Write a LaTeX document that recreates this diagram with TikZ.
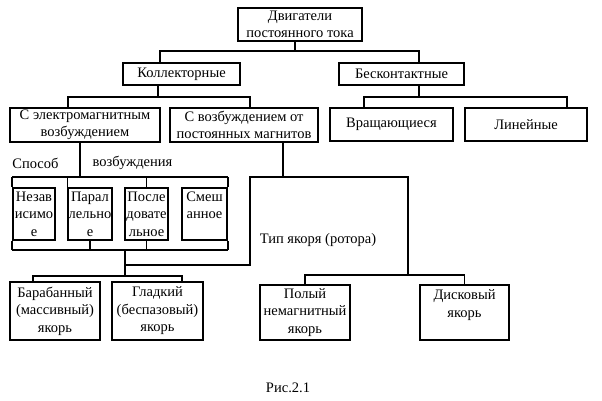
\documentclass[tikz,border=0pt]{standalone}
\usepackage{fontspec}
\setmainfont{Liberation Serif}
\begin{document}
\begin{tikzpicture}[x=1pt,y=-1pt,
  txt/.style={font=\fontsize{14.5}{17.5}\selectfont},
  box/.style={draw, line width=1.3pt, align=center, inner sep=0pt, txt},
  lbl/.style={inner sep=0pt, txt},
  ln/.style={line width=1.3pt}]
\useasboundingbox (0,0) rectangle (602,400);
% boxes
\node[box, minimum width=124pt, minimum height=33pt] (top) at (300,24.5) {Двигатели\\постоянного тока};
\node[box, minimum width=117pt, minimum height=22pt] (koll) at (181.5,74) {Коллекторные};
\node[box, minimum width=125pt, minimum height=22pt] (besk) at (401.5,74) {Бесконтактные};
\node[box, minimum width=150pt, minimum height=34pt] (elmag) at (85,125) {С электромагнитным\\возбуждением};
\node[box, minimum width=148pt, minimum height=34pt] (postmag) at (244,125) {С возбуждением от\\постоянных магнитов};
\node[box, minimum width=123pt, minimum height=33pt] (vrash) at (391.5,124.5) {Вращающиеся};
\node[box, minimum width=122pt, minimum height=33pt] (lin) at (526,124.5) {Линейные};
\node[box, minimum width=42pt, minimum height=52pt] (b1) at (34,214) {Незав\\исимо\\е};
\node[box, minimum width=44pt, minimum height=52pt] (b2) at (90,214) {Парал\\лельно\\е};
\node[box, minimum width=43pt, minimum height=52pt] (b3) at (146.5,214) {После\\довате\\льное};
\node[box, minimum width=45pt, minimum height=52pt] (b4) at (204.5,214) {Смеш\\анное\\\mbox{}};
\node[box, minimum width=90pt, minimum height=58pt] (bar) at (55,311) {Барабанный\\(массивный)\\якорь};
\node[box, minimum width=91pt, minimum height=58pt] (gl) at (157.5,311) {Гладкий\\(беспазовый)\\якорь};
\node[box, minimum width=90pt, minimum height=55pt] (pol) at (305,312.5) {Полый\\немагнитный\\якорь};
\node[box, minimum width=89pt, minimum height=55pt] (disk) at (464.5,312.5) {Дисковый\\якорь\\\mbox{}};
% labels
\node[lbl] (sposob) at (35.5,163) {Способ};
\node[lbl] (vozb) at (132.5,163) {возбуждения};
\node[lbl] (tip) at (318,240) {Тип якоря (ротора)};
\node[lbl] (ris) at (288,388) {Рис.2.1};
% level 1
\coordinate (j1) at (295,51);
\coordinate (xk) at (160,0);
\coordinate (xb) at (419,0);
\draw[ln] (top.south -| j1) -- (j1);
\draw[ln] (koll.north -| xk) |- (j1) -| (besk.north -| xb);
% level 2 left
\coordinate (j2) at (158,97);
\coordinate (xe) at (68,0);
\coordinate (xp) at (250,0);
\draw[ln] (koll.south -| j2) -- (j2);
\draw[ln] (elmag.north -| xe) |- (j2) -| (postmag.north -| xp);
% level 2 right
\coordinate (j3) at (419,97);
\coordinate (xv) at (364,0);
\coordinate (xl) at (567,0);
\draw[ln] (besk.south -| j3) -- (j3);
\draw[ln] (vrash.north -| xv) |- (j3) -| (lin.north -| xl);
% excitation frame
\coordinate (ft) at (80,177);
\coordinate (ftl) at (12,177);
\coordinate (ftr) at (228,177);
\draw[ln] (elmag.south -| ft) -- (ft);
\draw[ln] (ftl) -- (ftr);
\draw[ln] (ftl) -- (ftl |- b1.north);
\draw[ln] (b2.north west |- ftl) -- (b2.north west);
\draw[ln] (b3.north |- ftl) -- (b3.north);
\draw[ln] (ftr) -- (ftr |- b4.north);
\coordinate (fbl) at (12,250);
\coordinate (fbr) at (228,250);
\draw[ln] (fbl) -- (fbr);
\draw[ln] (fbl) -- (fbl |- b1.south);
\draw[ln] (b2.south |- fbl) -- (b2.south);
\draw[ln] (b3.south |- fbl) -- (b3.south);
\draw[ln] (fbr) -- (fbr |- b4.south);
% armature
\coordinate (fb) at (125,250);
\coordinate (j5) at (125,276);
\coordinate (xbar) at (33,0);
\coordinate (xgl) at (182,0);
\draw[ln] (fb) -- (j5);
\draw[ln] (bar.north -| xbar) |- (j5) -| (gl.north -| xgl);
\coordinate (rt) at (283,177);
\coordinate (m) at (125,265);
\coordinate (rbl) at (250,265);
\coordinate (rtl) at (250,177);
\coordinate (rtr) at (408,177);
\coordinate (rbr) at (408,275);
\draw[ln] (postmag.south -| rt) -- (rt);
\draw[ln] (m) -- (rbl) -- (rtl) -- (rtr) -- (rbr);
\draw[ln] (pol.north) |- (rbr) -| (disk.north);
\end{tikzpicture}
\end{document}
